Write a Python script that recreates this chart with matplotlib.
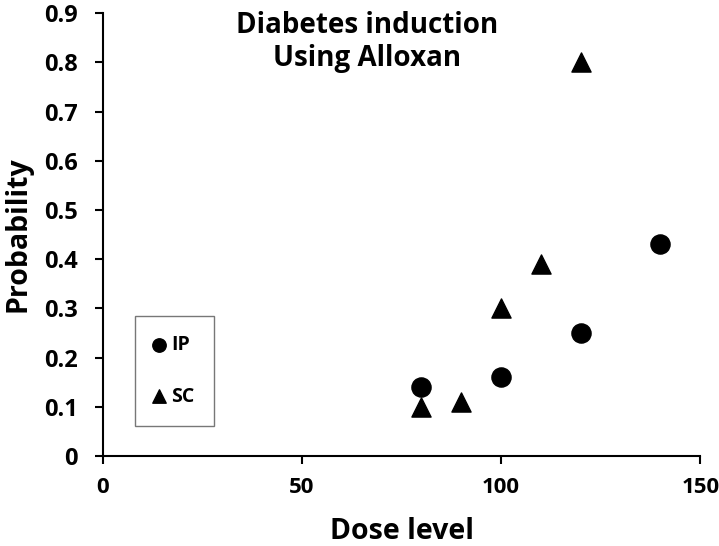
import matplotlib.pyplot as plt

plt.rcParams['font.family'] = ['Open Sans', 'DejaVu Sans']
plt.rcParams['font.weight'] = 'bold'

ip_dose = [80, 100, 120, 140]
ip_prob = [0.14, 0.16, 0.25, 0.43]
sc_dose = [80, 90, 100, 110, 120]
sc_prob = [0.10, 0.11, 0.30, 0.39, 0.80]

fig = plt.figure(figsize=(7.19, 5.46), dpi=100)
ax = fig.add_axes([0.143, 0.165, 0.831, 0.811])

ax.scatter(ip_dose, ip_prob, marker='o', s=190, color='black', label='IP', clip_on=False)
ax.scatter(sc_dose, sc_prob, marker='^', s=190, color='black', label='SC', clip_on=False)

ax.set_xlim(0, 150)
ax.set_ylim(0, 0.9)
ax.set_xticks([0, 50, 100, 150])
ax.set_yticks([0, 0.1, 0.2, 0.3, 0.4, 0.5, 0.6, 0.7, 0.8, 0.9])
ax.set_yticklabels(['0', '0.1', '0.2', '0.3', '0.4', '0.5', '0.6', '0.7', '0.8', '0.9'])
ax.tick_params(width=1.5, length=6, direction='out')
ax.tick_params(axis='x', pad=9, labelsize=16)
ax.tick_params(axis='y', pad=12, labelsize=17)
ax.spines['top'].set_visible(False)
ax.spines['right'].set_visible(False)
ax.spines['left'].set_linewidth(1.5)
ax.spines['bottom'].set_linewidth(1.5)

ax.set_xlabel('Dose level', fontsize=20.5, fontweight='bold', labelpad=14)
ax.set_ylabel('Probability', fontsize=20.5, fontweight='bold', labelpad=8)

ax.text(0.442, 1.005, 'Diabetes induction\nUsing Alloxan', transform=ax.transAxes,
        ha='center', va='top', fontsize=20, fontweight='bold', linespacing=1.2)

leg = ax.legend(loc='upper left', bbox_to_anchor=(0.0536, 0.316), borderaxespad=0,
                fancybox=False, edgecolor='#555555', fontsize=14, labelspacing=1.6,
                handletextpad=0.35, markerscale=0.7, borderpad=1.0, handlelength=0.5)
leg.get_frame().set_linewidth(1.0)

fig.savefig('out.png', dpi=100)
